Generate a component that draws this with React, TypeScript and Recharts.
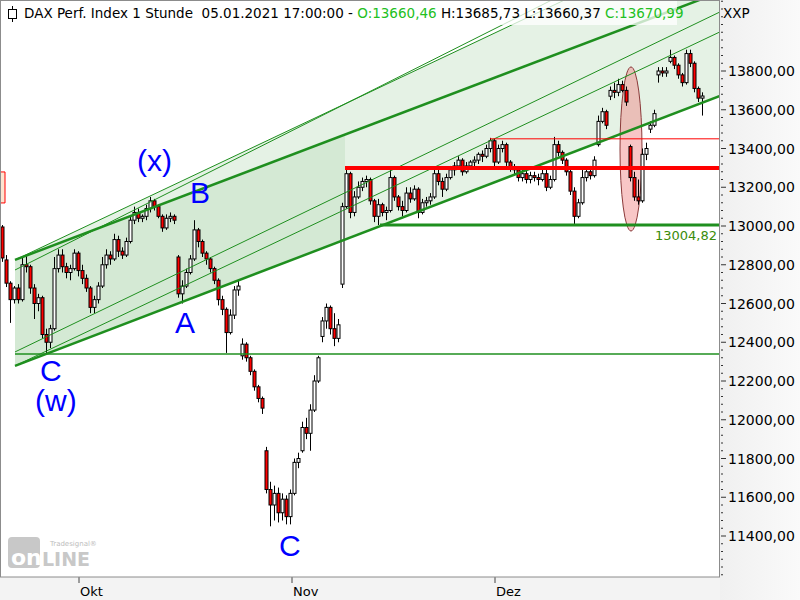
import React from "react";
import {
  ComposedChart,
  Bar,
  Area,
  XAxis,
  YAxis,
  ReferenceLine,
  ReferenceArea,
} from "recharts";

type Ohlc = [number, number, number, number];
type Pt = [number, number];

// je Eintrag ca. 4 Stunden: [open, high, low, close]
const septCandles: Ohlc[] = [
  [12995, 13005, 12815, 12835], [12825, 12850, 12685, 12705], [12705, 12715, 12500, 12620],
  [12620, 12690, 12600, 12680], [12680, 12700, 12600, 12620], [12620, 12840, 12610, 12800],
  [12800, 12850, 12760, 12790], [12790, 12800, 12650, 12680], [12680, 12700, 12520, 12600],
  [12600, 12650, 12560, 12630], [12630, 12640, 12420, 12440], [12440, 12470, 12345, 12400],
  [12400, 12490, 12370, 12470], [12470, 12840, 12460, 12780], [12780, 12880, 12760, 12850],
  [12850, 12880, 12760, 12790], [12790, 12810, 12730, 12760], [12760, 12800, 12720, 12780],
  [12780, 12880, 12770, 12860], [12860, 12870, 12740, 12770],
];

const octCandles: Ohlc[] = [
  [12770, 12800, 12700, 12730], [12730, 12750, 12660, 12680], [12680, 12690, 12550, 12580],
  [12580, 12640, 12550, 12620], [12620, 12710, 12600, 12690], [12690, 12840, 12680, 12800],
  [12800, 12880, 12780, 12850], [12850, 12870, 12800, 12830], [12830, 12960, 12820, 12930],
  [12930, 12950, 12840, 12870], [12870, 12890, 12830, 12850], [12850, 12940, 12840, 12920],
  [12920, 13050, 12910, 13030], [13030, 13100, 13010, 13070], [13070, 13090, 13020, 13040],
  [13040, 13060, 13020, 13050], [13050, 13110, 13030, 13090], [13090, 13150, 13070, 13130],
  [13130, 13140, 13080, 13100], [13100, 13110, 13040, 13050], [13050, 13060, 12970, 12990],
  [12990, 13060, 12980, 13040], [13040, 13070, 13020, 13050], [13050, 13060, 13010, 13030],
  [12840, 12850, 12630, 12650], [12650, 12720, 12600, 12690], [12690, 12780, 12680, 12760],
  [12760, 12850, 12750, 12830], [12830, 13030, 12820, 12980], [12980, 12990, 12890, 12920],
  [12920, 12930, 12840, 12860], [12860, 12870, 12800, 12830], [12830, 12840, 12760, 12780],
  [12780, 12790, 12700, 12720], [12720, 12730, 12590, 12620], [12620, 12640, 12540, 12570],
  [12570, 12580, 12345, 12450], [12450, 12570, 12440, 12540], [12540, 12690, 12520, 12670],
  [12670, 12720, 12640, 12690], [12330, 12420, 12310, 12390], [12390, 12400, 12300, 12320],
  [12320, 12330, 12230, 12250], [12250, 12260, 12150, 12170], [12170, 12180, 12090, 12110],
  [12110, 12120, 12030, 12060], [11840, 11860, 11620, 11640], [11640, 11680, 11450, 11560],
  [11560, 11660, 11480, 11620], [11620, 11650, 11470, 11520], [11520, 11620, 11480, 11590],
  [11590, 11610, 11460, 11500], [11500, 11640, 11460, 11620],
];

const novCandles: Ohlc[] = [
  [11620, 11800, 11610, 11780], [11780, 11830, 11750, 11800], [11840, 11990, 11830, 11960],
  [11960, 12010, 11900, 11930], [11930, 12080, 11840, 12050], [12050, 12230, 12040, 12200],
  [12200, 12330, 12190, 12320], [12430, 12530, 12400, 12510], [12510, 12600, 12470, 12580],
  [12580, 12590, 12440, 12470], [12470, 12550, 12380, 12420], [12420, 12520, 12400, 12490],
  [12700, 13120, 12680, 13100], [13100, 13300, 13090, 13270], [13270, 13280, 13040, 13070],
  [13070, 13180, 13050, 13150], [13150, 13230, 13140, 13200], [13200, 13250, 13180, 13230],
  [13230, 13260, 13200, 13240], [13240, 13250, 13110, 13130], [13130, 13140, 13020, 13050],
  [13050, 13140, 13005, 13110], [13110, 13120, 13050, 13070], [13070, 13100, 13030, 13080],
  [13080, 13300, 13070, 13250], [13250, 13260, 13130, 13150], [13150, 13160, 13080, 13100],
  [13100, 13130, 13050, 13080], [13080, 13200, 13070, 13170], [13170, 13200, 13120, 13140],
  [13140, 13210, 13130, 13190], [13190, 13200, 13040, 13070], [13070, 13140, 13060, 13120],
  [13120, 13150, 13100, 13130], [13130, 13170, 13110, 13150], [13150, 13300, 13140, 13270],
  [13270, 13290, 13210, 13230], [13230, 13250, 13150, 13190], [13190, 13270, 13180, 13250],
  [13250, 13310, 13240, 13290], [13290, 13330, 13260, 13310], [13310, 13360, 13290, 13340],
  [13340, 13350, 13260, 13280], [13280, 13330, 13270, 13310], [13310, 13340, 13290, 13330],
  [13330, 13360, 13300, 13340], [13340, 13380, 13320, 13370], [13370, 13390, 13330, 13360],
  [13360, 13420, 13350, 13400], [13400, 13455, 13380, 13440], [13440, 13450, 13300, 13330],
];

const decCandles: Ohlc[] = [
  [13330, 13420, 13320, 13400], [13400, 13440, 13380, 13420], [13420, 13430, 13310, 13330],
  [13330, 13340, 13280, 13300], [13300, 13320, 13260, 13290], [13290, 13300, 13230, 13250],
  [13250, 13290, 13230, 13270], [13270, 13290, 13220, 13240], [13240, 13280, 13220, 13260],
  [13260, 13280, 13230, 13250], [13250, 13270, 13210, 13240], [13240, 13290, 13230, 13270],
  [13270, 13290, 13180, 13200], [13200, 13260, 13190, 13240], [13240, 13460, 13230, 13420],
  [13420, 13440, 13360, 13380], [13380, 13390, 13320, 13340], [13340, 13350, 13260, 13280],
  [13280, 13290, 13160, 13180], [13180, 13200, 13005, 13050], [13050, 13140, 13040, 13120],
  [13120, 13300, 13110, 13250], [13250, 13300, 13230, 13280], [13280, 13310, 13240, 13260],
  [13260, 13360, 13250, 13340], [13420, 13570, 13410, 13540], [13540, 13610, 13530, 13590],
  [13590, 13600, 13500, 13520], [13670, 13720, 13650, 13700], [13700, 13740, 13660, 13690],
  [13690, 13760, 13670, 13730], [13730, 13750, 13690, 13700], [13700, 13720, 13620, 13640],
  [13410, 13420, 13230, 13250], [13250, 13280, 13130, 13150], [13150, 13240, 13110, 13130],
  [13130, 13400, 13120, 13370], [13370, 13430, 13340, 13400], [13500, 13540, 13480, 13520],
  [13520, 13600, 13510, 13580], [13780, 13820, 13740, 13800], [13800, 13820, 13770, 13790],
  [13790, 13820, 13770, 13800], [13850, 13910, 13840, 13870], [13870, 13880, 13810, 13830],
  [13830, 13840, 13760, 13780], [13780, 13790, 13720, 13740], [13740, 13910, 13730, 13890],
  [13890, 13910, 13820, 13840], [13840, 13850, 13690, 13710], [13710, 13720, 13640, 13660],
  [13660, 13690, 13570, 13671],
];

const monthTicks = [19.75, 73, 123.75];
const monthLabels = ["Okt", "Nov", "Dez"];
const priceTicks = [11400, 11600, 11800, 12000, 12200, 12400, 12600, 12800, 13000, 13200, 13400, 13600, 13800];

// Trendkanal und Fächer: [t, Kurs]
const upperTrend: Pt[] = [[3.75, 12825], [180, 14207]];
const lowerTrend: Pt[] = [[3.75, 12278], [180, 13671]];
const upperFan: Pt[] = [[3.75, 12825], [180, 14546]];
const upperFan2: Pt[] = [[3.75, 12773], [180, 14603]];
const innerFan: Pt[][] = [
  [[3.75, 12350], [180, 14105]],
  [[3.75, 12278], [180, 14002]],
];
const resistance = 13300;
const highLine = 13450;
const supportLine = 13004.82;
const lowLine = 12340;

const candles = [...septCandles, ...octCandles, ...novCandles, ...decCandles].map(
  ([o, h, l, c], i) => ({ t: i + 0.5, o, h, l, c, range: [l, h] })
);

const at = (line: Pt[], t: number) => {
  const [[t0, p0], [t1, p1]] = line;
  return p0 + ((p1 - p0) * (t - t0)) / (t1 - t0);
};
const band = (lo: Pt[], hi: Pt[], t0: number, t1: number) => [
  { t: t0, band: [at(lo, t0), at(hi, t0)] },
  { t: t1, band: [at(lo, t1), at(hi, t1)] },
];

const minorTicks: number[] = [];
for (let v = 11200; v <= 14160; v += 40) minorTicks.push(v);

const seg = (line: Pt[]) => line.map(([x, y]) => ({ x, y }));

const Candle = (props: any) => {
  const { x, y, width, height, payload } = props;
  if (!payload) return null;
  const { o, h, l, c } = payload;
  const top = Math.min(y, y + height);
  const hgt = Math.abs(height);
  const k = h === l ? 0 : hgt / (h - l);
  const py = (v: number) => top + (h - v) * k;
  const cx = Math.round(x + width / 2) + 0.5;
  const b0 = py(Math.max(o, c));
  const b1 = py(Math.min(o, c));
  return (
    <g>
      <line x1={cx} x2={cx} y1={top} y2={top + hgt} stroke="#000" strokeWidth={1} />
      <rect
        x={cx - 1.5}
        y={b0}
        width={3}
        height={Math.max(1, b1 - b0)}
        fill={c >= o ? "#ffffff" : "#ff0000"}
        stroke="#000"
        strokeWidth={1}
      />
    </g>
  );
};

const Ellipse = (props: any) => {
  const { x, y, width, height } = props;
  return (
    <ellipse
      cx={x + width / 2}
      cy={y + height / 2}
      rx={width / 2}
      ry={height / 2}
      fill="#f08080"
      fillOpacity={0.45}
      stroke="#8b3a3a"
      strokeWidth={1}
    />
  );
};

const PriceTick = (props: any) => {
  const { x, y, payload } = props;
  const v = payload.value;
  const major = priceTicks.includes(v);
  return (
    <g>
      <line x1={x + 1} x2={x + (major ? 6 : 3)} y1={y} y2={y} stroke="#333" />
      {major && (
        <text x={x + 8} y={y + 5} fontSize={14} fontFamily="DejaVu Sans" fill="#000">
          {v},00
        </text>
      )}
    </g>
  );
};

const MonthTick = (props: any) => {
  const { x, y, payload } = props;
  const label = monthLabels[monthTicks.indexOf(payload.value)];
  return (
    <g>
      <line x1={x} x2={x} y1={y} y2={y + 6} stroke="#444" />
      <text x={x + 1} y={y + 19} fontSize={13} fontFamily="DejaVu Sans" fill="#000">
        {label}
      </text>
    </g>
  );
};

const green = "#1f8f1f";
const blue = "#0000ff";

export default function App() {
  return (
    <div style={{ position: "absolute", left: 0, top: 0, width: 800, height: 600, overflow: "hidden" }}>
      <div style={{ position: "absolute", left: 720, top: 0, width: 80, height: 600, background: "linear-gradient(90deg, #f0f0f0, #fafafa)" }} />
      <div style={{ position: "absolute", left: 0, top: 577, width: 720, height: 23, background: "#f3f3f3" }} />
      <div style={{ position: "absolute", left: 0, top: 0, width: 720, height: 577, background: "#fff" }} />
      <div style={{ position: "absolute", left: 0, top: 0 }}>
        <ComposedChart width={800} height={600} data={candles} margin={{ top: 0, right: 0, bottom: 0, left: 0 }}>
          <XAxis
            dataKey="t"
            type="number"
            domain={[0, 180]}
            allowDataOverflow
            ticks={monthTicks}
            interval={0}
            height={23}
            tickLine={false}
            axisLine={false}
            tickSize={0}
            tickMargin={0}
            tick={<MonthTick />}
          />
          <YAxis
            orientation="right"
            width={80}
            domain={[11188.4, 14166.5]}
            allowDataOverflow
            ticks={minorTicks}
            interval={0}
            tickLine={false}
            axisLine={false}
            tickSize={0}
            tickMargin={0}
            tick={<PriceTick />}
          />
          <Area data={band(lowerTrend, upperTrend, 3.75, 180)} dataKey="band" type="linear" stroke="none" fill="#008000" fillOpacity={0.1} dot={false} activeDot={false} isAnimationActive={false} />
          <Area data={band(lowerTrend, upperTrend, 3.75, 86.25)} dataKey="band" type="linear" stroke="none" fill="#008000" fillOpacity={0.07} dot={false} activeDot={false} isAnimationActive={false} />
          <Area data={band(upperTrend, upperFan, 3.75, 180)} dataKey="band" type="linear" stroke="none" fill="#008000" fillOpacity={0.1} dot={false} activeDot={false} isAnimationActive={false} />
          {[upperFan, upperFan2, ...innerFan].map((l, i) => (
            <ReferenceLine key={i} segment={seg(l)} stroke={green} strokeWidth={1} ifOverflow="hidden" />
          ))}
          <ReferenceLine segment={seg(upperTrend)} stroke={green} strokeWidth={2.5} ifOverflow="hidden" />
          <ReferenceLine segment={seg(lowerTrend)} stroke={green} strokeWidth={2.5} ifOverflow="hidden" />
          <ReferenceLine segment={[{ x: 3.75, y: lowLine }, { x: 180, y: lowLine }]} stroke={green} strokeWidth={1.5} ifOverflow="hidden" />
          <ReferenceLine segment={[{ x: 95, y: supportLine }, { x: 180, y: supportLine }]} stroke={green} strokeWidth={3} ifOverflow="hidden" />
          <ReferenceLine segment={[{ x: 122.5, y: highLine }, { x: 180, y: highLine }]} stroke="#ff0000" strokeWidth={1} ifOverflow="hidden" />
          <ReferenceArea x1={0} x2={1.25} y1={13119} y2={13279} fill="#fde4d0" fillOpacity={1} stroke="#ff0000" strokeWidth={1} ifOverflow="hidden" />
          <Bar dataKey="range" barSize={4} shape={<Candle />} isAnimationActive={false} />
          <ReferenceLine segment={[{ x: 86.25, y: resistance }, { x: 180, y: resistance }]} stroke="#ff0000" strokeWidth={4} ifOverflow="hidden" />
          <ReferenceArea x1={155} x2={160.5} y1={12974} y2={13821} shape={<Ellipse />} ifOverflow="hidden" />
        </ComposedChart>
      </div>
      <svg width={800} height={600} style={{ position: "absolute", left: 0, top: 0, pointerEvents: "none" }}>
        <rect x={0.5} y={0.5} width={719} height={576.5} fill="none" stroke="#8c8c8c" />
        <rect x={20} y={1} width={657} height={24} fill="#fff" fillOpacity={0.75} />
        <line x1={12.5} x2={12.5} y1={6} y2={22} stroke="#000" />
        <rect x={8.5} y={9.5} width={8} height={9} fill="#fff" stroke="#000" />
        <text x={24} y={18} fontFamily="DejaVu Sans" fontSize={13.5} fill="#000" style={{ whiteSpace: "pre" }}>
          {"DAX Perf. Index 1 Stunde  05.01.2021 17:00:00 - "}
          <tspan fill="#22c022">O:13660,46</tspan>
          {" H:13685,73 L:13660,37 "}
          <tspan fill="#22c022">C:13670,99</tspan>
        </text>
        <text x={723} y={18} fontFamily="DejaVu Sans" fontSize={13.5} fill="#000">XXP</text>
        <text x={717} y={240} textAnchor="end" fontFamily="DejaVu Sans" fontSize={13} fill="#3a8c0a">13004,82</text>
        <g fontFamily="Liberation Sans" fontSize={30} fill={blue}>
          <text x={137} y={171}>(x)</text>
          <text x={190} y={203}>B</text>
          <text x={175} y={333}>A</text>
          <text x={40} y={381}>C</text>
          <text x={35} y={411}>(w)</text>
          <text x={279} y={556}>C</text>
        </g>
        <rect x={8} y={537} width={32} height={31} rx={4} fill="#c8c8c8" />
        <text x={11} y={565} fontFamily="DejaVu Sans" fontWeight="bold" fontSize={22} fill="#fff">on</text>
        <text x={42} y={566} fontFamily="DejaVu Sans" fontWeight="bold" fontSize={19} fill="#c8c8c8">LINE</text>
        <text x={50} y={546} fontFamily="DejaVu Sans" fontSize={7} fill="#bdbdbd">Tradesignal®</text>
      </svg>
    </div>
  );
}
